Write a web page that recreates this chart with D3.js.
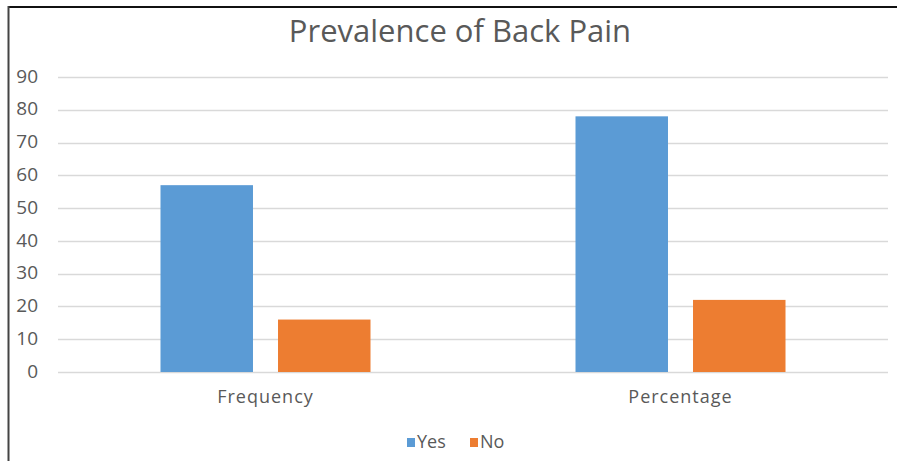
<!DOCTYPE html>
<html>
<head>
<meta charset="utf-8">
<script src="https://cdn.jsdelivr.net/npm/d3@7/dist/d3.min.js"></script>
<style>
  body { margin: 0; background: #fff; }
  svg { display: block; font-family: 'Open Sans', 'Segoe UI', sans-serif; }
</style>
</head>
<body>
<svg id="chart"></svg>
<script>
const width = 897;
const height = 461;

const categories = ["Frequency", "Percentage"];
const seriesNames = ["Yes", "No"];
const yesValues = [57, 78];
const noValues = [16, 22];
const yTicks = [0, 10, 20, 30, 40, 50, 60, 70, 80, 90];
const colors = ["#5B9BD5", "#ED7D31"];

const rows = categories.map((c, i) => ({ category: c, values: [yesValues[i], noValues[i]] }));

const margin = { top: 77, right: 9, bottom: 89, left: 58 };
const groupWidth = 210;

const svg = d3.select('#chart')
  .attr('width', width)
  .attr('height', height);

// frame (only top and left edges show in the reference)
svg.append('line')
  .attr('x1', 8).attr('x2', width).attr('y1', 7).attr('y2', 7)
  .attr('stroke', '#111').attr('stroke-width', 2);
svg.append('line')
  .attr('x1', 8.5).attr('x2', 8.5).attr('y1', 6).attr('y2', height)
  .attr('stroke', '#444').attr('stroke-width', 2);

const x0 = d3.scaleBand()
  .domain(categories)
  .range([margin.left, width - margin.right]);

const x1 = d3.scaleBand()
  .domain(seriesNames)
  .range([0, groupWidth])
  .paddingInner(0.213);

const y = d3.scaleLinear()
  .domain([0, 90])
  .range([height - margin.bottom, margin.top]);

// gridlines
svg.append('g')
  .selectAll('line')
  .data(yTicks)
  .enter().append('line')
    .attr('x1', margin.left)
    .attr('x2', width - margin.right)
    .attr('y1', d => Math.round(y(d)) + 0.5)
    .attr('y2', d => Math.round(y(d)) + 0.5)
    .attr('stroke', '#d9d9d9')
    .attr('stroke-width', 1.5);

// y tick labels
svg.append('g')
  .selectAll('text')
  .data(yTicks)
  .enter().append('text')
    .text(d => d)
    .attr('x', 38)
    .attr('y', d => y(d))
    .attr('dy', '0.3em')
    .attr('text-anchor', 'end')
    .attr('font-size', 19)
    .attr('fill', '#595959');

// bars
const groups = svg.append('g')
  .selectAll('g')
  .data(rows)
  .enter().append('g')
    .attr('transform', d => 'translate(' + (x0(d.category) + x0.bandwidth() / 2 - groupWidth / 2) + ',0)');

groups.selectAll('rect')
  .data(d => d.values.map((v, i) => ({ key: seriesNames[i], value: v, idx: i })))
  .enter().append('rect')
    .attr('x', d => x1(d.key))
    .attr('width', x1.bandwidth())
    .attr('y', d => y(d.value))
    .attr('height', d => y(0) - y(d.value))
    .attr('fill', d => colors[d.idx]);

// category labels
svg.append('g')
  .selectAll('text')
  .data(categories)
  .enter().append('text')
    .text(d => d)
    .attr('x', d => x0(d) + x0.bandwidth() / 2)
    .attr('y', 403)
    .attr('text-anchor', 'middle')
    .attr('font-size', 18)
    .attr('letter-spacing', 1)
    .attr('fill', '#595959');

// title
svg.append('text')
  .text('Prevalence of Back Pain')
  .attr('x', 460)
  .attr('y', 42)
  .attr('text-anchor', 'middle')
  .attr('font-size', 31)
  .attr('fill', '#595959');

// legend
const legend = svg.append('g')
  .selectAll('g')
  .data(seriesNames)
  .enter().append('g')
    .attr('transform', (d, i) => 'translate(' + (407 + i * 63) + ',438)');

legend.append('rect')
  .attr('width', 8)
  .attr('height', 9)
  .attr('fill', (d, i) => colors[i]);

legend.append('text')
  .text(d => d)
  .attr('x', 10)
  .attr('y', 10)
  .attr('font-size', 18)
  .attr('fill', '#595959');
</script>
</body>
</html>
